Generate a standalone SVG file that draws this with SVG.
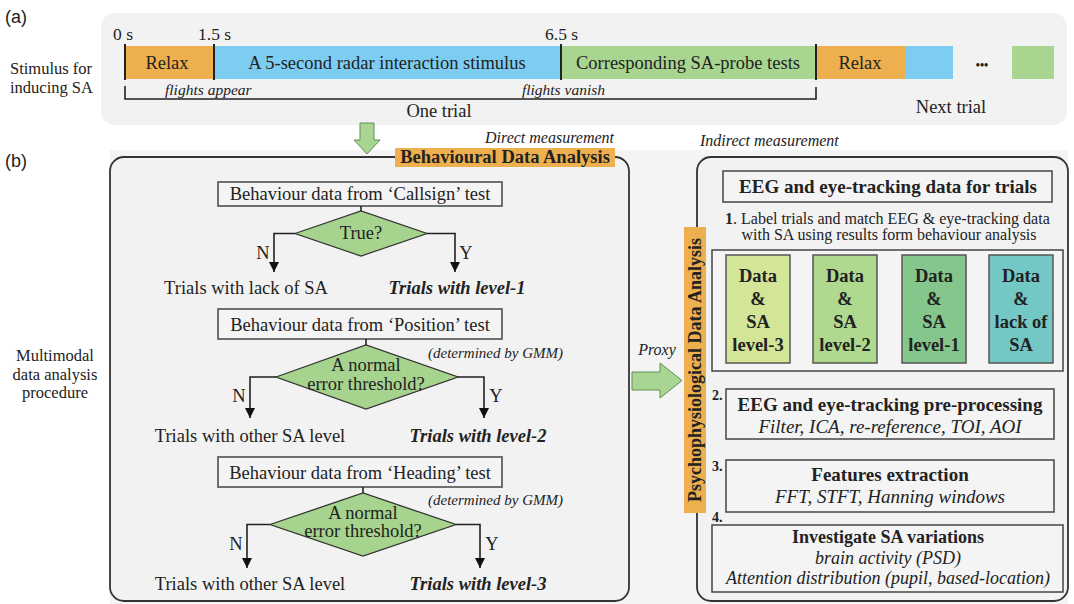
<svg xmlns="http://www.w3.org/2000/svg" width="1074" height="604" viewBox="0 0 1074 604">
<style>
text{font-family:"Liberation Serif","Times New Roman",serif;fill:#222}
.lbl{font-family:"Liberation Sans",Arial,sans-serif;font-size:18px}
.t16{font-size:16.5px}
.t18{font-size:18.5px}
.it{font-style:italic}
.b{font-weight:bold}
.c{text-anchor:middle}
.panel{fill:#f2f2f2;stroke:#333;stroke-width:1.8}
.box{fill:#f4f4f4;stroke:#444;stroke-width:1.5}
.dia{fill:#a6d38d;stroke:#333;stroke-width:1.3}
.conn{fill:none;stroke:#222;stroke-width:1.6}
.tick{stroke:#222;stroke-width:2}
.db{stroke:#555;stroke-width:1.5}
.gArrow{fill:#a8d591;stroke:#5f8f55;stroke-width:1}
.r19{font-size:19px}
.r18{font-size:18px}
.gmm{font-size:15px;font-style:italic}
</style>
<defs>
<marker id="ah" markerUnits="userSpaceOnUse" markerWidth="10" markerHeight="10" refX="10" refY="5" orient="auto">
<path d="M0,0 L10,5 L0,10 z" fill="#111"/>
</marker>
</defs>
<rect width="1074" height="604" fill="#ffffff"/>

<!-- (a) stimulus timeline -->
<g id="panel-a">
<text class="lbl" x="5" y="23">(a)</text>
<rect x="101" y="13" width="966" height="112" rx="14" fill="#f2f2f2"/>
<text class="t16" x="10" y="74">Stimulus for</text>
<text class="t16" x="10" y="93">inducing SA</text>
<text x="113" y="40" style="font-size:17.5px">0 s</text>
<text x="198" y="40" style="font-size:17.5px">1.5 s</text>
<text x="545" y="40" style="font-size:17.5px">6.5 s</text>
</g>
<g id="timeline">
<rect x="125" y="46" width="89" height="33" fill="#eeb04e"/>
<rect x="214" y="46" width="347" height="33" fill="#7dcdf3"/>
<rect x="561" y="46" width="255" height="33" fill="#a8d590"/>
<rect x="816" y="46" width="89" height="33" fill="#eeb04e"/>
<rect x="905" y="46" width="48" height="33" fill="#7dcdf3"/>
<rect x="1012" y="46" width="42" height="33" fill="#a8d590"/>
<line class="tick" x1="125" y1="44" x2="125" y2="80"/>
<line class="tick" x1="214" y1="44" x2="214" y2="80"/>
<line class="tick" x1="561" y1="44" x2="561" y2="80"/>
<line class="tick" x1="816" y1="44" x2="816" y2="80"/>
<text class="t18 c" x="167" y="69">Relax</text>
<text class="t18 c" x="387" y="69">A 5-second radar interaction stimulus</text>
<text class="t18 c" x="688" y="69">Corresponding SA-probe tests</text>
<text class="t18 c" x="860" y="69">Relax</text>
<text class="c b" x="982" y="69" style="font-size:12px">•••</text>
<path class="conn" d="M125,86 V99 H816 V87"/>
<text class="it" x="165" y="95" style="font-size:15.5px">flights appear</text>
<text class="it" x="605" y="95" style="font-size:15.5px;text-anchor:end">flights vanish</text>
<text class="t18 c" x="439" y="117">One trial</text>
<text class="t18 c" x="951" y="113">Next trial</text>
</g>

<!-- (b) -->
<g id="panel-b-bg">
<text class="lbl" x="5" y="167">(b)</text>
<rect x="110" y="150" width="958" height="454" fill="#f4f4f4"/>
<text class="t16 c" x="55" y="361">Multimodal</text>
<text class="t16 c" x="55" y="380">data analysis</text>
<text class="t16 c" x="55" y="398">procedure</text>
</g>

<g id="behavioural-panel">
<rect x="110" y="157" width="519" height="444" rx="14" class="panel"/>
<text class="it" x="614" y="143" style="font-size:16px;text-anchor:end">Direct measurement</text>
<rect x="395" y="148" width="220" height="19" fill="#eeb04e"/>
<text class="b c" x="505" y="163" style="font-size:18.5px">Behavioural Data Analysis</text>
</g>

<g id="callsign-box">
<rect class="box" x="218" y="182" width="284" height="24"/>
<text class="t18 c" x="360" y="200">Behaviour data from ‘Callsign’ test</text>
</g>
<g id="callsign-decision">
<polygon class="dia" points="295,233.5 361,211 427,233.5 361,256"/>
<text class="t18 c" x="361" y="239">True?</text>
</g>
<g id="callsign-out">
<text class="t18 c" x="263" y="259">N</text>
<text class="t18 c" x="466" y="259">Y</text>
<text class="t18 c" x="246" y="294">Trials with lack of SA</text>
<text class="t18 c b it" x="457" y="294">Trials with level-1</text>
</g>

<g id="position-box">
<rect class="box" x="218" y="309" width="284" height="30"/>
<text class="t18 c" x="360" y="331">Behaviour data from ‘Position’ test</text>
</g>
<g id="position-decision">
<polygon class="dia" points="276,377 366,345 458,377 366,409"/>
<text class="t18 c" x="366" y="371">A normal</text>
<text class="t18 c" x="366" y="390">error threshold?</text>
<text class="gmm" x="428" y="358">(determined by GMM)</text>
</g>
<g id="position-out">
<text class="t18 c" x="239" y="402">N</text>
<text class="t18 c" x="496" y="402">Y</text>
<text class="t18 c" x="250" y="442">Trials with other SA level</text>
<text class="t18 c b it" x="478" y="442">Trials with level-2</text>
</g>

<g id="heading-box">
<rect class="box" x="218" y="457" width="284" height="30"/>
<text class="t18 c" x="360" y="479">Behaviour data from ‘Heading’ test</text>
</g>
<g id="heading-decision">
<polygon class="dia" points="270,524.5 363,493 456,524.5 363,556"/>
<text class="t18 c" x="363" y="519">A normal</text>
<text class="t18 c" x="363" y="537">error threshold?</text>
<text class="gmm" x="428" y="505">(determined by GMM)</text>
</g>
<g id="heading-out">
<text class="t18 c" x="236" y="550">N</text>
<text class="t18 c" x="492" y="550">Y</text>
<text class="t18 c" x="250" y="590">Trials with other SA level</text>
<text class="t18 c b it" x="478" y="590">Trials with level-3</text>
</g>

<!-- right panel -->
<g id="psycho-panel">
<rect x="697" y="157" width="371" height="444" rx="14" class="panel"/>
<text class="it" x="700" y="146" style="font-size:16px">Indirect measurement</text>
<rect x="684" y="227" width="22" height="286" fill="#eeb04e"/>
<text class="b c" transform="translate(701,370) rotate(-90)" style="font-size:18px">Psychophysiological Data Analysis</text>
</g>
<g id="eeg-data">
<rect class="box" x="723" y="171" width="329" height="31"/>
<text class="b c" x="888" y="193" style="font-size:19px">EEG and eye-tracking data for trials</text>
</g>
<g id="step1">
<text x="725" y="224" style="font-size:16px"><tspan class="b">1</tspan>.  Label trials and match EEG &amp; eye-tracking data</text>
<text class="c" x="889" y="240" style="font-size:16px">with SA using results form behaviour analysis</text>
<rect class="box" x="712" y="250" width="351" height="121"/>
</g>
<g id="data-l3">
<rect class="db" x="726" y="255" width="64" height="108" fill="#d3e597"/>
<text class="b c" x="758" y="282" style="font-size:18.5px">Data</text>
<text class="b c" x="758" y="305" style="font-size:18.5px">&amp;</text>
<text class="b c" x="758" y="328" style="font-size:18.5px">SA</text>
<text class="b c" x="758" y="351" style="font-size:18.5px">level-3</text>
</g>
<g id="data-l2">
<rect class="db" x="813" y="255" width="64" height="108" fill="#afd98f"/>
<text class="b c" x="845" y="282" style="font-size:18.5px">Data</text>
<text class="b c" x="845" y="305" style="font-size:18.5px">&amp;</text>
<text class="b c" x="845" y="328" style="font-size:18.5px">SA</text>
<text class="b c" x="845" y="351" style="font-size:18.5px">level-2</text>
</g>
<g id="data-l1">
<rect class="db" x="902" y="255" width="64" height="108" fill="#84c68b"/>
<text class="b c" x="934" y="282" style="font-size:18.5px">Data</text>
<text class="b c" x="934" y="305" style="font-size:18.5px">&amp;</text>
<text class="b c" x="934" y="328" style="font-size:18.5px">SA</text>
<text class="b c" x="934" y="351" style="font-size:18.5px">level-1</text>
</g>
<g id="data-lack">
<rect class="db" x="989" y="255" width="64" height="108" fill="#73c7c4"/>
<text class="b c" x="1021" y="282" style="font-size:18.5px">Data</text>
<text class="b c" x="1021" y="305" style="font-size:18.5px">&amp;</text>
<text class="b c" x="1021" y="328" style="font-size:18.5px">lack of</text>
<text class="b c" x="1021" y="351" style="font-size:18.5px">SA</text>
</g>
<g id="step2">
<text class="b" x="712" y="400" style="font-size:14px">2.</text>
<rect class="box" x="726" y="389" width="328" height="50"/>
<text class="b c r19" x="890" y="411">EEG and eye-tracking pre-processing</text>
<text class="it c r19" x="890" y="433">Filter, ICA, re-reference, TOI, AOI</text>
</g>
<g id="step3">
<text class="b" x="712" y="471" style="font-size:14px">3.</text>
<rect class="box" x="726" y="460" width="328" height="52"/>
<text class="b c r19" x="890" y="481">Features extraction</text>
<text class="it c r19" x="890" y="503">FFT, STFT, Hanning windows</text>
</g>
<g id="step4">
<text class="b" x="712" y="522" style="font-size:14px">4.</text>
<rect class="box" x="712" y="525" width="351" height="67"/>
<text class="b c r18" x="888" y="543">Investigate SA variations</text>
<text class="it c r18" x="888" y="564">brain activity (PSD)</text>
<text class="it c r18" x="888" y="584">Attention distribution (pupil, based-location)</text>
</g>

<g id="connectors">
<polygon class="gArrow" points="360,123 374,123 374,140 380,140 367,154 354,140 360,140"/>
<polygon class="gArrow" points="632,372 660,372 660,363 682,380.5 660,398 660,390 632,390"/>
<text class="it c" x="657" y="355" style="font-size:16px">Proxy</text>
<line class="conn" x1="361" y1="206" x2="361" y2="211"/>
<path class="conn" d="M295,233.5 H274 V272" marker-end="url(#ah)"/>
<path class="conn" d="M427,233.5 H455 V272" marker-end="url(#ah)"/>
<line class="conn" x1="366" y1="339" x2="366" y2="345"/>
<path class="conn" d="M276,377 H250 V418" marker-end="url(#ah)"/>
<path class="conn" d="M458,377 H484 V418" marker-end="url(#ah)"/>
<line class="conn" x1="363" y1="487" x2="363" y2="493"/>
<path class="conn" d="M270,524.5 H247 V568" marker-end="url(#ah)"/>
<path class="conn" d="M456,524.5 H480 V568" marker-end="url(#ah)"/>
</g>
</svg>
